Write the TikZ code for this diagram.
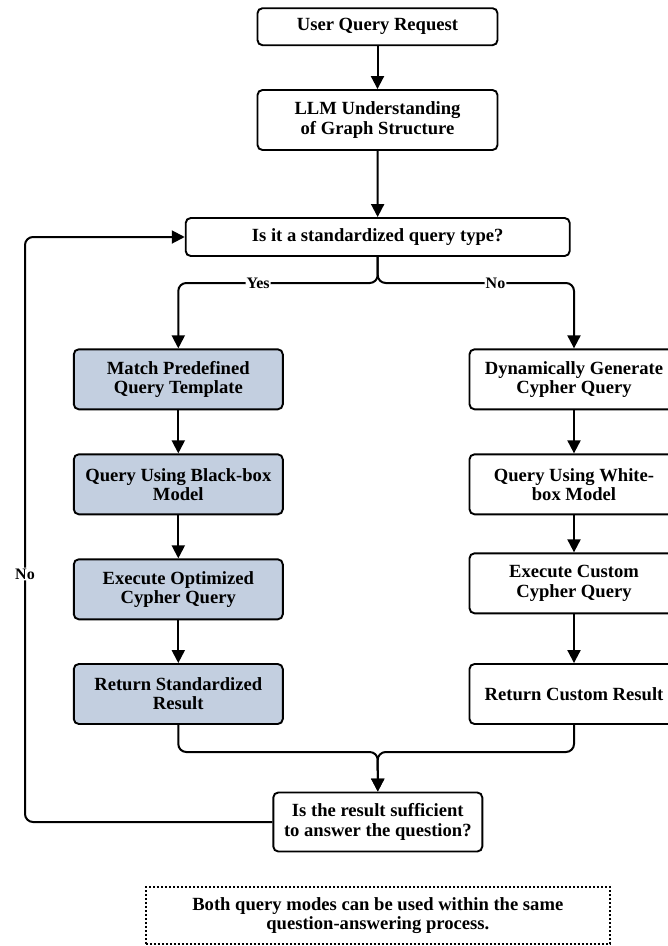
\documentclass[tikz,border=0pt]{standalone}
\usepackage{fontspec}
\setmainfont{Liberation Serif}
\usepackage{tikz}
\usetikzlibrary{arrows.meta}

\definecolor{stdfill}{HTML}{C3CFE0}

\begin{document}
\begin{tikzpicture}[x=1pt, y=-1pt,
	font=\fontsize{18.6}{19.3}\selectfont\bfseries,
	box/.style={draw, line width=1.9pt, rounded corners=5pt, align=center,
		inner sep=0pt, minimum width=209pt, minimum height=60pt},
	stdbox/.style={box, fill=stdfill},
	line/.style={line width=2pt, rounded corners=8pt},
	arr/.style={line, -{Triangle[length=13pt, width=13pt]}},
	lbl/.style={fill=white, inner sep=1pt, font=\fontsize{16}{18}\selectfont\bfseries}]
% canvas
	\useasboundingbox[fill=white] (0,0) rectangle (668,946);

% top part
	\node[box, minimum width=240pt, minimum height=37pt] (req) at (377.5,26.7) {User Query Request};
	\node[box, minimum width=240pt] (llm) at (377.5,120) {LLM Understanding\\of Graph Structure};
	\node[box, minimum width=384pt, minimum height=38pt] (stdq) at (377.7,237) {Is it a standardized query type?};

% left column (standard mode)
	\node[stdbox] (m1) at (178.3,379.3) {Match Predefined\\Query Template};
	\node[stdbox] (m2) at (178.3,484.3) {Query Using Black-box\\Model};
	\node[stdbox] (m3) at (178.3,589.3) {Execute Optimized\\Cypher Query};
	\node[stdbox] (m4) at (178.3,694) {Return Standardized\\Result};

% right column (custom mode)
	\node[box] (d1) at (574,379.3) {Dynamically Generate\\Cypher Query};
	\node[box] (d2) at (574,484.3) {Query Using White-\\box Model};
	\node[box] (d3) at (574,583.3) {Execute Custom\\Cypher Query};
	\node[box] (d4) at (574,694) {Return Custom Result};

% bottom
	\node[box, minimum height=59pt] (fin) at (377.8,822) {Is the result sufficient\\to answer the question?};
	\node[draw, line width=1.8pt, dash pattern=on 1.8pt off 2.2pt, align=center,
		minimum width=464pt, minimum height=57pt, inner sep=0pt] (note) at (377.8,915.5)
		{Both query modes can be used within the same\\question-answering process.};

	\coordinate (split) at (377.7,283);
	\coordinate (merge) at (377.7,752);
	\coordinate (lp) at (25,574);

% connectors
	\draw[arr] (req) -- (llm);
	\draw[arr] (llm) -- (stdq);
	\draw[arr] (stdq.south) -- (split) -| (m1.north) node[lbl, pos=0.3] {Yes};
	\draw[arr] (stdq.south) -- (split) -| (d1.north) node[lbl, pos=0.3] {No};
	\draw[arr] (m1) -- (m2);
	\draw[arr] (m2) -- (m3);
	\draw[arr] (m3) -- (m4);
	\draw[arr] (d1) -- (d2);
	\draw[arr] (d2) -- (d3);
	\draw[arr] (d3) -- (d4);
	\draw[arr] (m4.south) |- (merge) -- (fin.north);
	\draw[arr] (d4.south) |- (merge) -- (fin.north);
	\draw[arr] (fin.west) -| (lp) node[lbl] (nolp) {No} |- (stdq.west);
\end{tikzpicture}
\end{document}
